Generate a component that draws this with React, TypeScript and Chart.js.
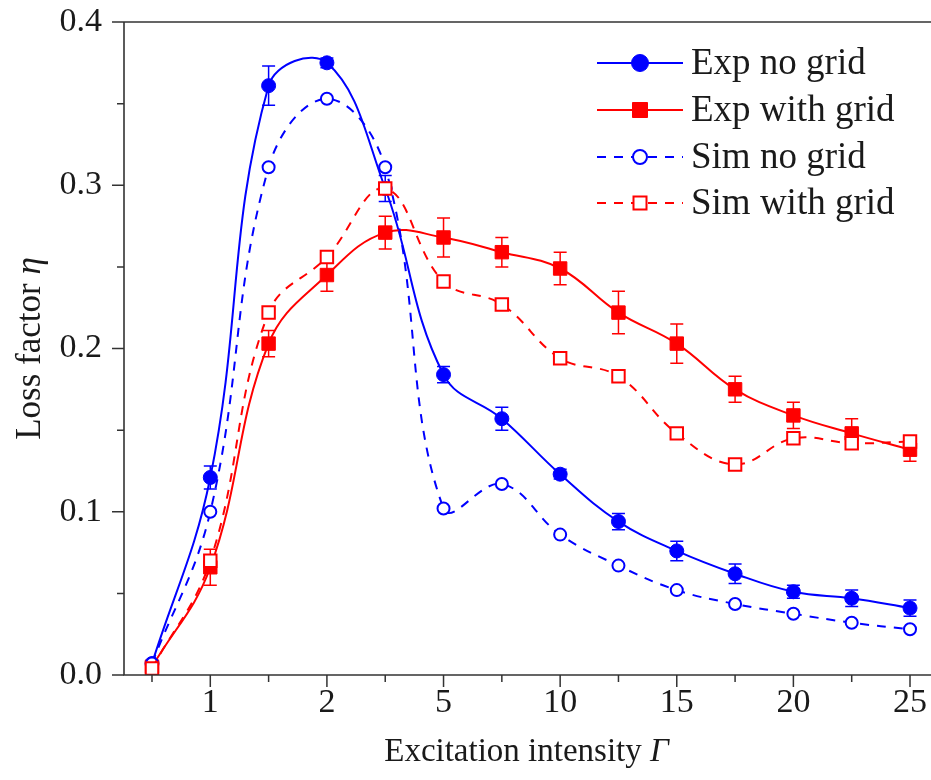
import React, { useEffect, useRef } from 'react';
import { Chart, registerables } from 'chart.js';

Chart.register(...registerables);

// ---- data ----
const X_CATEGORIES = ['0.5', '1', '1.5', '2', '3', '5', '7.5', '10', '12.5', '15', '17.5', '20', '22.5', '25'];
const X_TICK_LABELS = ['', '1', '', '2', '', '5', '', '10', '', '15', '', '20', '', '25'];
const Y_MAJOR_TICKS = [0, 0.1, 0.2, 0.3, 0.4];
const Y_MINOR_TICKS = [0.05, 0.15, 0.25, 0.35];

const EXP_NO_GRID = [0.007, 0.121, 0.361, 0.375, 0.298, 0.184, 0.157, 0.123, 0.094, 0.076, 0.062, 0.051, 0.047, 0.041];
const EXP_NO_GRID_ERR = [0.002, 0.007, 0.012, 0.003, 0.008, 0.005, 0.007, 0.003, 0.005, 0.006, 0.006, 0.004, 0.005, 0.005];
const EXP_WITH_GRID = [0.005, 0.066, 0.203, 0.245, 0.271, 0.268, 0.259, 0.249, 0.222, 0.203, 0.175, 0.159, 0.148, 0.138];
const EXP_WITH_GRID_ERR = [0.003, 0.011, 0.008, 0.010, 0.010, 0.012, 0.009, 0.010, 0.013, 0.012, 0.008, 0.008, 0.009, 0.007];
const SIM_NO_GRID = [0.007, 0.100, 0.311, 0.353, 0.311, 0.102, 0.117, 0.086, 0.067, 0.052, 0.0435, 0.0375, 0.032, 0.028];
const SIM_WITH_GRID = [0.004, 0.070, 0.222, 0.256, 0.298, 0.241, 0.227, 0.194, 0.183, 0.148, 0.129, 0.145, 0.142, 0.143];

const SERIES_LABELS = ['Exp no grid', 'Exp with grid', 'Sim no grid', 'Sim with grid'];

const BLUE = '#0000ff';
const RED = '#ff0000';
const AXIS = '#333333';
const TEXT = '#1a1a1a';
const FONT = "'Liberation Serif', 'Times New Roman', serif";

const toPoints = (arr: number[]) => arr.map((v, i) => ({ x: i, y: v }));

const decorPlugin = {
  id: 'decor',
  beforeDatasetDraw(chart: any, args: any) {
    const ds = chart.data.datasets[args.index];
    const err: number[] | undefined = ds.errors;
    if (!err) return;
    const ctx = chart.ctx;
    const xs = chart.scales.x;
    const ys = chart.scales.y;
    ctx.save();
    ctx.strokeStyle = ds.borderColor;
    ctx.lineWidth = 1.5;
    ds.data.forEach((p: any, i: number) => {
      const x = xs.getPixelForValue(p.x);
      const y1 = ys.getPixelForValue(p.y + err[i]);
      const y2 = ys.getPixelForValue(p.y - err[i]);
      ctx.beginPath();
      ctx.moveTo(x, y1);
      ctx.lineTo(x, y2);
      ctx.moveTo(x - 6.5, y1);
      ctx.lineTo(x + 6.5, y1);
      ctx.moveTo(x - 6.5, y2);
      ctx.lineTo(x + 6.5, y2);
      ctx.stroke();
    });
    ctx.restore();
  },
  afterDraw(chart: any) {
    const ctx = chart.ctx;
    const { left, right, top, bottom } = chart.chartArea;
    const xs = chart.scales.x;
    const ys = chart.scales.y;
    ctx.save();
    // axes frame
    ctx.strokeStyle = AXIS;
    ctx.lineWidth = 1.6;
    ctx.beginPath();
    ctx.moveTo(left, top);
    ctx.lineTo(chart.width, top);
    ctx.moveTo(left, top);
    ctx.lineTo(left, bottom);
    ctx.lineTo(chart.width, bottom);
    ctx.stroke();
    // y ticks
    ctx.lineWidth = 1.5;
    ctx.beginPath();
    Y_MAJOR_TICKS.forEach((v) => {
      const y = ys.getPixelForValue(v);
      ctx.moveTo(left - 12, y);
      ctx.lineTo(left, y);
    });
    Y_MINOR_TICKS.forEach((v) => {
      const y = ys.getPixelForValue(v);
      ctx.moveTo(left - 7, y);
      ctx.lineTo(left, y);
    });
    // x ticks
    X_CATEGORIES.forEach((_, i) => {
      const x = xs.getPixelForValue(i);
      const len = X_TICK_LABELS[i] ? 12 : 7;
      ctx.moveTo(x, bottom);
      ctx.lineTo(x, bottom + len);
    });
    ctx.stroke();

    // axis titles
    ctx.fillStyle = TEXT;
    ctx.textBaseline = 'middle';
    const drawMixed = (parts: { t: string; italic: boolean }[], cx: number, cy: number, size: number) => {
      let total = 0;
      parts.forEach((p) => {
        ctx.font = `${p.italic ? 'italic ' : ''}${size}px ${FONT}`;
        total += ctx.measureText(p.t).width;
      });
      let x = cx - total / 2;
      ctx.textAlign = 'left';
      parts.forEach((p) => {
        ctx.font = `${p.italic ? 'italic ' : ''}${size}px ${FONT}`;
        ctx.fillText(p.t, x, cy);
        x += ctx.measureText(p.t).width;
      });
    };
    drawMixed(
      [
        { t: 'Excitation intensity ', italic: false },
        { t: 'Γ', italic: true },
      ],
      (left + right) / 2 - 1,
      752,
      33
    );
    ctx.save();
    ctx.translate(31, (top + bottom) / 2);
    ctx.rotate(-Math.PI / 2);
    drawMixed(
      [
        { t: 'Loss factor ', italic: false },
        { t: 'η', italic: true },
      ],
      0,
      0,
      35
    );
    ctx.restore();

    // legend
    const rows = [63, 110, 157, 203];
    chart.data.datasets.forEach((ds: any, i: number) => {
      const y = rows[i];
      ctx.save();
      ctx.strokeStyle = ds.borderColor;
      ctx.lineWidth = 2;
      ctx.setLineDash(ds.borderDash || []);
      ctx.beginPath();
      ctx.moveTo(597, y);
      ctx.lineTo(683, y);
      ctx.stroke();
      ctx.setLineDash([]);
      const mx = 640;
      ctx.beginPath();
      if (ds.pointStyle === 'circle') {
        ctx.arc(mx, y, ds.legendSize, 0, Math.PI * 2);
      } else {
        const s = ds.legendSize;
        ctx.rect(mx - s, y - s, 2 * s, 2 * s);
      }
      ctx.fillStyle = ds.pointBackgroundColor;
      ctx.fill();
      ctx.lineWidth = ds.pointBorderWidth;
      ctx.strokeStyle = ds.borderColor;
      ctx.stroke();
      ctx.restore();
      ctx.fillStyle = TEXT;
      ctx.font = `37px ${FONT}`;
      ctx.textAlign = 'left';
      ctx.textBaseline = 'middle';
      ctx.fillText(ds.label, 691, y + 1);
    });
    ctx.restore();
  },
};

export default function App() {
  const canvasRef = useRef<HTMLCanvasElement | null>(null);

  useEffect(() => {
    const canvas = canvasRef.current;
    if (!canvas) return;
    const chart = new Chart(canvas, {
      type: 'line',
      data: {
        datasets: [
          {
            label: SERIES_LABELS[0],
            data: toPoints(EXP_NO_GRID),
            errors: EXP_NO_GRID_ERR,
            borderColor: BLUE,
            backgroundColor: BLUE,
            pointBackgroundColor: BLUE,
            pointBorderColor: BLUE,
            pointStyle: 'circle',
            pointRadius: 7,
            pointBorderWidth: 1,
            legendSize: 8.5,
            borderWidth: 2,
            tension: 0.4,
            order: 4,
          } as any,
          {
            label: SERIES_LABELS[1],
            data: toPoints(EXP_WITH_GRID),
            errors: EXP_WITH_GRID_ERR,
            borderColor: RED,
            backgroundColor: RED,
            pointBackgroundColor: RED,
            pointBorderColor: RED,
            pointStyle: 'rect',
            pointRadius: 9.5,
            pointBorderWidth: 1,
            legendSize: 7.5,
            borderWidth: 2,
            tension: 0.4,
            order: 3,
          } as any,
          {
            label: SERIES_LABELS[2],
            data: toPoints(SIM_NO_GRID),
            borderColor: BLUE,
            backgroundColor: '#ffffff',
            pointBackgroundColor: '#ffffff',
            pointBorderColor: BLUE,
            pointStyle: 'circle',
            pointRadius: 6,
            pointBorderWidth: 2,
            legendSize: 7,
            borderWidth: 2,
            borderDash: [9, 8],
            tension: 0.4,
            order: 2,
          } as any,
          {
            label: SERIES_LABELS[3],
            data: toPoints(SIM_WITH_GRID),
            borderColor: RED,
            backgroundColor: '#ffffff',
            pointBackgroundColor: '#ffffff',
            pointBorderColor: RED,
            pointStyle: 'rect',
            pointRadius: 8.8,
            pointBorderWidth: 2,
            legendSize: 6.5,
            borderWidth: 2,
            borderDash: [9, 8],
            tension: 0.4,
            order: 1,
          } as any,
        ],
      },
      options: {
        animation: false,
        responsive: false,
        maintainAspectRatio: false,
        layout: { autoPadding: false, padding: { top: 22, right: 0, left: 0, bottom: 0 } },
        plugins: {
          legend: { display: false },
          tooltip: { enabled: false },
        },
        scales: {
          x: {
            type: 'linear',
            min: -0.48,
            max: 13.36,
            grid: { display: false, drawTicks: false },
            border: { display: false },
            afterBuildTicks: (scale: any) => {
              scale.ticks = X_CATEGORIES.map((_, i) => ({ value: i }));
            },
            afterFit: (scale: any) => {
              scale.height = 105;
              scale.paddingLeft = 0;
              scale.paddingRight = 0;
            },
            ticks: {
              autoSkip: false,
              maxRotation: 0,
              padding: 8,
              color: TEXT,
              font: { family: FONT, size: 34 },
              callback: (v: any) => X_TICK_LABELS[v] ?? '',
            },
          },
          y: {
            type: 'linear',
            min: 0,
            max: 0.4,
            grid: { display: false, drawTicks: false },
            border: { display: false },
            afterBuildTicks: (scale: any) => {
              scale.ticks = Y_MAJOR_TICKS.map((v) => ({ value: v }));
            },
            afterFit: (scale: any) => {
              scale.width = 124;
              scale.paddingTop = 0;
              scale.paddingBottom = 0;
            },
            ticks: {
              padding: 22,
              color: TEXT,
              font: { family: FONT, size: 34 },
              callback: (v: any) => Number(v).toFixed(1),
            },
          },
        },
      } as any,
      plugins: [decorPlugin],
    });
    return () => chart.destroy();
  }, []);

  return (
    <div style={{ position: 'fixed', left: 0, top: 0, width: 931, height: 780, background: '#fff' }}>
      <canvas ref={canvasRef} width={931} height={780} style={{ width: 931, height: 780 }} />
    </div>
  );
}
